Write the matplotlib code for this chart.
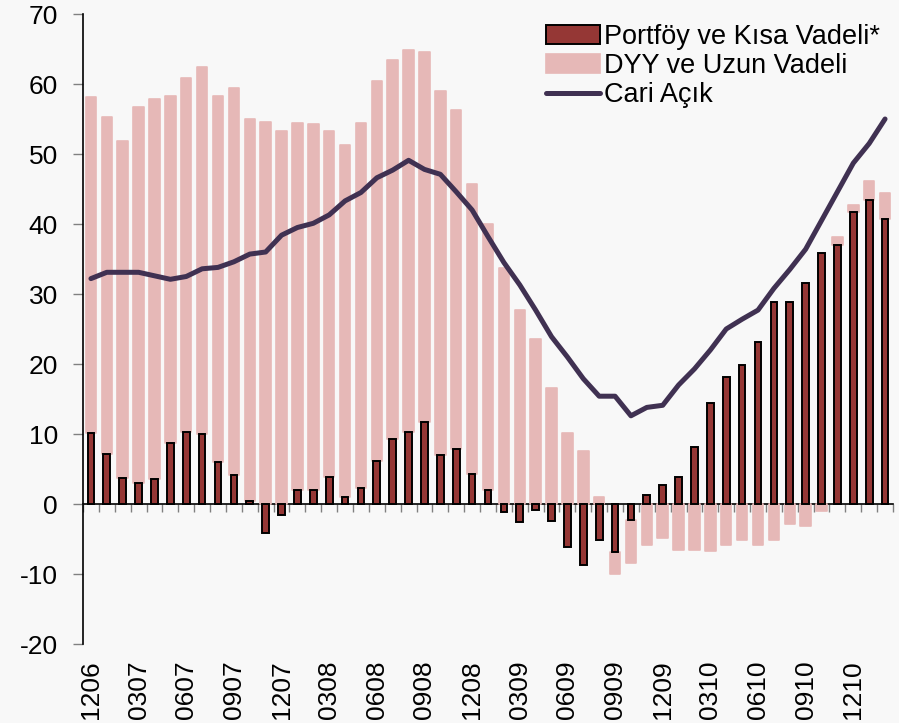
import numpy as np
import matplotlib
matplotlib.use("Agg")
import matplotlib.pyplot as plt

plt.rcParams['font.family'] = ['Liberation Sans', 'DejaVu Sans']
plt.rcParams['axes.unicode_minus'] = False

# ---- data -------------------------------------------------------------
periods = ["1206", "0107", "0207", "0307", "0407", "0507", "0607", "0707", "0807", "0907",
           "1007", "1107", "1207", "0108", "0208", "0308", "0408", "0508", "0608", "0708",
           "0808", "0908", "1008", "1108", "1208", "0109", "0209", "0309", "0409", "0509",
           "0609", "0709", "0809", "0909", "1009", "1109", "1209", "0110", "0210", "0310",
           "0410", "0510", "0610", "0710", "0810", "0910", "1010", "1110", "1210", "0111",
           "0211"]

portfoy = [10.2, 7.2, 3.7, 3.0, 3.6, 8.7, 10.3, 10.0, 6.0, 4.2,
           0.4, -4.1, -1.5, 2.0, 2.0, 3.8, 1.0, 2.3, 6.1, 9.3,
           10.3, 11.7, 7.0, 7.9, 4.3, 2.0, -1.2, -2.6, -0.9, -2.4,
           -6.2, -8.7, -5.1, -6.9, -2.3, 1.3, 2.7, 3.8, 8.1, 14.5,
           18.2, 19.8, 23.2, 28.8, 28.8, 31.6, 35.9, 37.0, 41.7, 43.5,
           40.7]

dyy = [48.0, 48.1, 48.1, 53.7, 54.2, 49.6, 50.6, 52.4, 52.3, 55.2,
       54.6, 54.6, 53.3, 52.4, 52.3, 49.5, 50.3, 52.2, 54.4, 54.2,
       54.6, 52.9, 52.0, 48.4, 41.4, 38.0, 33.7, 27.7, 23.6, 16.6,
       10.2, 7.6, 1.0, -3.1, -6.1, -5.9, -4.8, -6.5, -6.6, -6.7,
       -5.8, -5.1, -5.9, -5.1, -2.8, -3.1, -1.0, 1.2, 1.0, 2.6,
       3.7]

cari = [32.2, 33.1, 33.1, 33.1, 32.6, 32.1, 32.5, 33.6, 33.8, 34.6,
        35.7, 36.0, 38.4, 39.5, 40.1, 41.3, 43.3, 44.5, 46.6, 47.7,
        49.1, 47.8, 47.1, 44.6, 42.0, 38.2, 34.5, 31.3, 27.7, 23.9,
        21.0, 17.9, 15.4, 15.4, 12.6, 13.8, 14.1, 17.0, 19.3, 22.0,
        25.0, 26.4, 27.7, 30.8, 33.5, 36.4, 40.5, 44.6, 48.7, 51.5,
        55.0]

labels = ["Portföy ve Kısa Vadeli*", "DYY ve Uzun Vadeli", "Cari Açık"]
yticks = [-20, -10, 0, 10, 20, 30, 40, 50, 60, 70]

# ---- style ------------------------------------------------------------
BG = '#F8F8F8'
DARK = '#953735'
PINK = '#E6B8B7'
LINE = '#403152'
FS = 19

x = np.arange(len(periods))
p = np.array(portfoy)
d = np.array(dyy)

# Excel-style stacking: positives on positives, negatives on negatives
d_bottom = np.where((d >= 0) == (p >= 0), p, 0.0)

fig = plt.figure(figsize=(8.99, 7.23), dpi=100, facecolor=BG)
ax = fig.add_axes([83/899, 1 - 644/723, (893 - 83)/899, (644 - 14)/723])
ax.set_facecolor(BG)

ax.bar(x, d, bottom=d_bottom, width=0.66, color=PINK, edgecolor=PINK,
       linewidth=1.2, joinstyle='round', zorder=2, label=labels[1])
ax.bar(x, p, width=0.42, color=DARK, edgecolor='black', linewidth=1.4,
       zorder=3, label=labels[0])
ax.plot(x, cari, color=LINE, linewidth=3.6, solid_joinstyle='round',
        solid_capstyle='round', zorder=4, label=labels[2])

ax.set_xlim(-0.5, len(periods) - 0.5)
ax.set_ylim(-20, 70)
ax.set_yticks(yticks)
ax.tick_params(axis='y', direction='out', length=7, width=1, color='#808080',
               labelsize=FS, pad=11)

ax.set_xticks(x[::3])
ax.set_xticklabels(periods[::3], rotation=90, fontsize=FS)
ax.tick_params(axis='x', length=0, pad=12)

for s in ['top', 'right', 'bottom']:
    ax.spines[s].set_visible(False)
ax.spines['left'].set_color('black')
ax.spines['left'].set_linewidth(1.2)

# zero axis with category-boundary ticks
sec = ax.secondary_xaxis(20/90)
sec.set_xticks(np.arange(-0.5, len(periods), 1.0))
sec.tick_params(axis='x', direction='out', length=6, width=1, color='#808080',
                labelbottom=False, labeltop=False)
sec.spines['bottom'].set_color('black')
sec.spines['bottom'].set_linewidth(1.2)
sec.spines['top'].set_visible(False)

h, l = ax.get_legend_handles_labels()
order = [l.index(t) for t in labels]
leg = fig.legend([h[i] for i in order], [l[i] for i in order],
                 loc='upper left', bbox_to_anchor=(546/899, 1 - 24/723),
                 frameon=False, fontsize=19.5, handlelength=2.0,
                 handletextpad=0.15, labelspacing=0.12, borderpad=0,
                 borderaxespad=0)

fig.savefig('out.png', dpi=100, facecolor=BG)
